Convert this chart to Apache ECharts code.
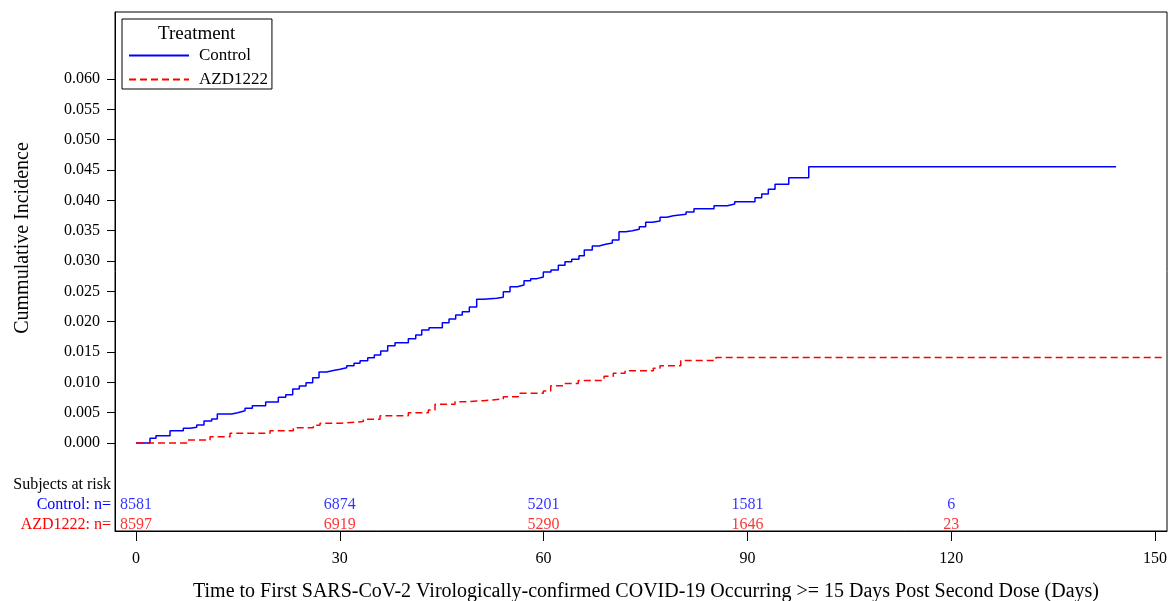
<!DOCTYPE html>
<html>
<head>
<meta charset="utf-8">
<script src="https://cdn.jsdelivr.net/npm/echarts@6/dist/echarts.min.js"></script>
<style>html,body{margin:0;padding:0;background:#fff;}#c{width:1169px;height:601px;}</style>
</head>
<body>
<div id="c"></div>
<script>
// Days and cumulative incidence (Control), step changes
const controlDays = [0, 2.06, 2.94, 5.01, 6.96, 7.95, 8.94, 10.01, 11.14, 11.97, 14.09, 14.97, 16.05, 17.12, 19.09, 20.95, 22.04, 23.07, 24.04, 25.03, 26.01, 26.94, 28.07, 29.04, 30.03, 31.02, 32.09, 32.98, 34.11, 35.08, 36.02, 37.05, 38.13, 40.09, 41.18, 42.06, 43.13, 45.09, 46.08, 47.06, 48.03, 49.07, 50.15, 51.13, 53.1, 54.07, 55.06, 56.13, 57.12, 58.1, 59.03, 59.96, 61.09, 62.17, 63.15, 64.14, 65.21, 65.99, 67.17, 68.16, 69.14, 70.12, 71.1, 72.09, 73.06, 74.09, 75.03, 76.01, 77.14, 78.13, 79.1, 80.97, 82.14, 85.09, 87.05, 88.13, 91.12, 92.11, 93.08, 94.07, 96.09, 99.03, 144.27];
const controlInc = [0, 0.00077, 0.00120, 0.00203, 0.00242, 0.00259, 0.00297, 0.00363, 0.00396, 0.00478, 0.00500, 0.00532, 0.00572, 0.00615, 0.00676, 0.00753, 0.00796, 0.00890, 0.00940, 0.00994, 0.01076, 0.01170, 0.01195, 0.01217, 0.01241, 0.01274, 0.01314, 0.01357, 0.01406, 0.01451, 0.01517, 0.01604, 0.01653, 0.01719, 0.01780, 0.01863, 0.01901, 0.01983, 0.02044, 0.02110, 0.02164, 0.02242, 0.02369, 0.02385, 0.02402, 0.02494, 0.02577, 0.02605, 0.02676, 0.02709, 0.02737, 0.02819, 0.02852, 0.02929, 0.02989, 0.03028, 0.03088, 0.03182, 0.03248, 0.03276, 0.03297, 0.03347, 0.03483, 0.03500, 0.03523, 0.03566, 0.03638, 0.03660, 0.03721, 0.03747, 0.03770, 0.03808, 0.03863, 0.03912, 0.03940, 0.03978, 0.04044, 0.04105, 0.04182, 0.04265, 0.04374, 0.04555, 0.04555];
// AZD1222
const azdDays = [0, 7.5, 10.9, 13.84, 19.73, 23.16, 26.1, 27.09, 30.03, 33.46, 35.92, 40.09, 43.03, 44.02, 46.96, 48.73, 51.13, 54.07, 56.28, 59.96, 61.05, 62.86, 65.11, 68.9, 70.26, 71.99, 76.15, 77.14, 80.19, 85.38, 151.4];
const azdInc = [0, 0.00049, 0.00104, 0.0016, 0.00203, 0.00252, 0.00292, 0.00325, 0.00354, 0.0039, 0.0045, 0.005, 0.00544, 0.00638, 0.00681, 0.00697, 0.00725, 0.00763, 0.00819, 0.00857, 0.00945, 0.00981, 0.0103, 0.0110, 0.01149, 0.01192, 0.01231, 0.01274, 0.0136, 0.0141, 0.0141];

const riskDays = [0, 30, 60, 90, 120];
const riskControl = [8581, 6874, 5201, 1581, 6];
const riskAZD = [8597, 6919, 5290, 1646, 23];
const riskRows = ['AZD1222: n=', 'Control: n=', 'Subjects at risk'];
const xTicks = [0, 30, 60, 90, 120, 150];
const yTicks = [0, 0.005, 0.010, 0.015, 0.020, 0.025, 0.030, 0.035, 0.040, 0.045, 0.050, 0.055, 0.060];

const FONT = 'Liberation Serif';
const BLUE = '#0000ff', RED = '#ff0000';

const zip = (a, b) => a.map((v, i) => [v, b[i]]);
const riskData = [];
riskDays.forEach((d, i) => {
  riskData.push({ value: [d, 'Control: n=', riskControl[i]], label: { color: BLUE } });
  riskData.push({ value: [d, 'AZD1222: n=', riskAZD[i]], label: { color: RED } });
});

const chart = echarts.init(document.getElementById('c'));
chart.setOption({
  animation: false,
  backgroundColor: '#fff',
  title: {
    text: 'Treatment', left: 158, top: 25, padding: 0,
    textStyle: { fontFamily: FONT, fontSize: 19, fontWeight: 'normal', color: '#000' }
  },
  legend: {
    orient: 'vertical', left: 122, top: 19,
    padding: [28, 4, 1, 6], itemGap: 7, itemWidth: 60, itemHeight: 14,
    borderColor: '#000', borderWidth: 1,
    itemStyle: { opacity: 0 },
    textStyle: { fontFamily: FONT, fontSize: 17, color: '#000', padding: [0, 0, 0, 5] },
    data: ['Control', 'AZD1222']
  },
  grid: [
    { left: 115, right: 2, top: 12, bottom: 70, show: true, borderColor: '#000', borderWidth: 1,
      backgroundColor: 'transparent', outerBoundsMode: 'none', containLabel: false },
    { left: 136, right: 14, top: 475, bottom: 66, outerBoundsMode: 'none', containLabel: false }
  ],
  xAxis: [
    {
      gridIndex: 0, type: 'value', min: -3.091, max: 151.77,
      axisLine: { show: true, onZero: false, lineStyle: { color: '#000', width: 1 } },
      axisTick: { show: true, length: 10, customValues: xTicks, lineStyle: { color: '#000' } },
      splitLine: { show: false },
      axisLabel: { margin: 20, customValues: xTicks, fontFamily: FONT, fontSize: 16, color: '#000' }
    },
    { gridIndex: 1, type: 'value', show: false, min: 0, max: 150 }
  ],
  yAxis: [
    {
      gridIndex: 0, type: 'value', min: -0.014506, max: 0.07104,
      axisLine: { show: true, onZero: false, lineStyle: { color: '#000', width: 1 } },
      axisTick: { show: true, length: 8, customValues: yTicks, lineStyle: { color: '#000' } },
      splitLine: { show: false },
      axisLabel: { margin: 15, customValues: yTicks, fontFamily: FONT, fontSize: 16, color: '#000', formatter: v => v.toFixed(3) }
    },
    {
      gridIndex: 1, type: 'category', data: riskRows, offset: 21,
      axisLine: { show: false }, axisTick: { show: false }, splitLine: { show: false },
      axisLabel: {
        margin: 4, interval: 0, fontFamily: FONT, fontSize: 16,
        color: v => v.indexOf('Control') === 0 ? BLUE : (v.indexOf('AZD') === 0 ? RED : '#000')
      }
    }
  ],
  graphic: [
    {
      type: 'text', x: 23, y: 238, rotation: Math.PI / 2,
      style: { text: 'Cummulative Incidence', font: '20px "Liberation Serif"', fill: '#000', align: 'center', verticalAlign: 'middle' }
    },
    {
      type: 'text', x: 646, y: 592,
      style: { text: 'Time to First SARS-CoV-2 Virologically-confirmed COVID-19 Occurring >= 15 Days Post Second Dose (Days)',
        font: '20px "Liberation Serif"', fill: '#000', align: 'center', verticalAlign: 'middle' }
    }
  ],
  series: [
    {
      name: 'Control', type: 'line', step: 'end', xAxisIndex: 0, yAxisIndex: 0,
      data: zip(controlDays, controlInc), showSymbol: false, symbol: 'none',
      lineStyle: { color: BLUE, width: 1.5 }, itemStyle: { color: BLUE }
    },
    {
      name: 'AZD1222', type: 'line', step: 'end', xAxisIndex: 0, yAxisIndex: 0,
      data: zip(azdDays, azdInc), showSymbol: false, symbol: 'none',
      lineStyle: { color: RED, width: 1.5, type: [7, 4] }, itemStyle: { color: RED }
    },
    {
      type: 'scatter', xAxisIndex: 1, yAxisIndex: 1, symbolSize: 1,
      itemStyle: { color: 'transparent' }, silent: true,
      label: { show: true, position: 'inside', fontFamily: FONT, fontSize: 16, formatter: p => String(p.value[2]) },
      data: riskData
    }
  ]
});
</script>
</body>
</html>
